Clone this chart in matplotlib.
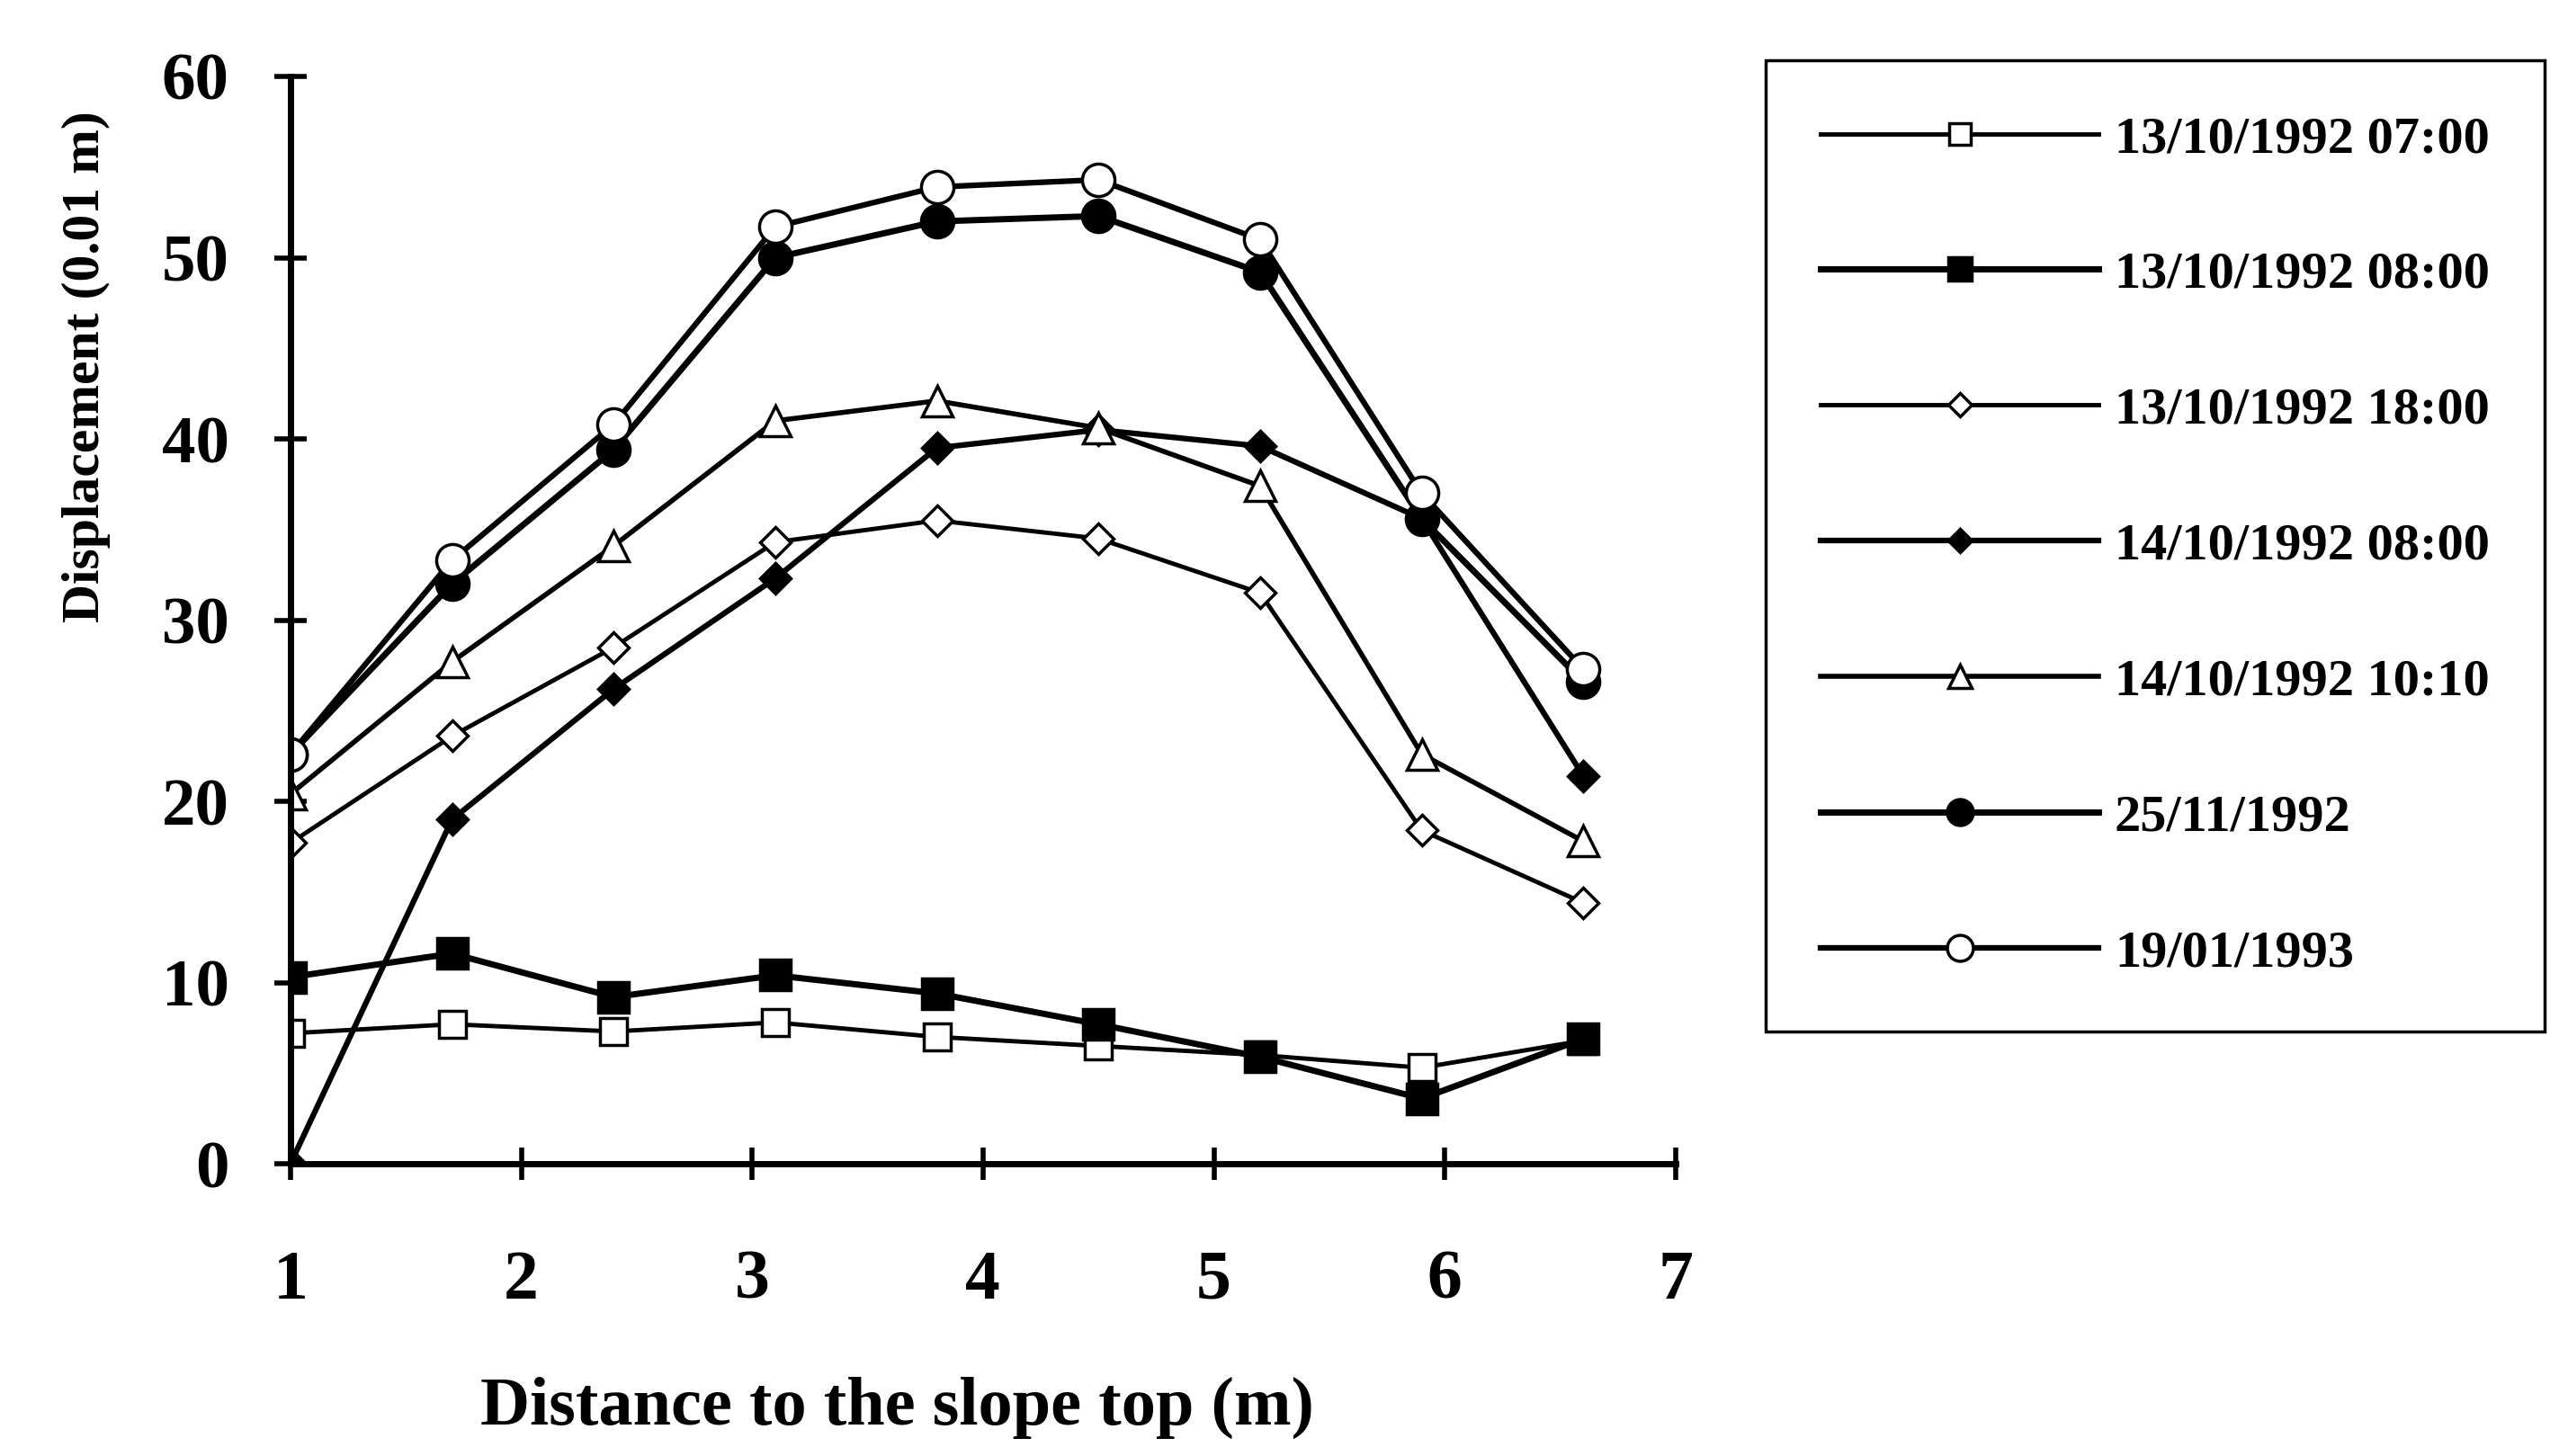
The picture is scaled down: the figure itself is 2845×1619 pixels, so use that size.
import matplotlib
matplotlib.use("Agg")
import matplotlib.pyplot as plt

plt.rcParams['font.family'] = ['Liberation Serif', 'DejaVu Serif']
plt.rcParams['font.weight'] = 'bold'

# distance to slope top (m)
dist = [1.0, 1.7, 2.4, 3.1, 3.8, 4.5, 5.2, 5.9, 6.6]

labels = ["13/10/1992 07:00", "13/10/1992 08:00", "13/10/1992 18:00",
          "14/10/1992 08:00", "14/10/1992 10:10", "25/11/1992", "19/01/1993"]

d_1307 = [7.2, 7.7, 7.3, 7.8, 7.0, 6.5, 6.0, 5.3, 6.8]
d_1308 = [10.3, 11.6, 9.2, 10.4, 9.4, 7.7, 5.9, 3.6, 6.9]
d_1318 = [17.7, 23.6, 28.5, 34.3, 35.5, 34.5, 31.5, 18.4, 14.4]
d_1408 = [0.0, 19.0, 26.2, 32.3, 39.5, 40.5, 39.6, 35.6, 21.4]
d_1410 = [20.4, 27.7, 34.1, 41.0, 42.1, 40.6, 37.4, 22.6, 17.8]
d_2511 = [22.6, 32.0, 39.4, 50.0, 52.0, 52.3, 49.2, 35.6, 26.6]
d_1901 = [22.6, 33.3, 40.8, 51.7, 53.9, 54.3, 51.0, 37.0, 27.3]

series = [d_1307, d_1308, d_1318, d_1408, d_1410, d_2511, d_1901]
markers = ['s', 's', 'D', 'D', '^', 'o', 'o']
faces = ['white', 'black', 'white', 'black', 'white', 'black', 'white']
msizes = [22, 24, 17, 17, 24, 26, 26]
lws = [3.5, 5, 3.5, 4.5, 4, 5, 4.5]

fig = plt.figure(figsize=(28.45, 16.19), dpi=100)
ax = fig.add_axes([0.1135, 0.2007, 0.5413, 0.7468])

for y, lab, m, fc, ms, lw in zip(series, labels, markers, faces, msizes, lws):
    ax.plot(dist, y, color='black', lw=lw, marker=m, ms=ms, mfc=fc,
            mec='black', mew=2.5, label=lab)

ax.set_xlim(1, 7)
ax.set_ylim(0, 60)
ax.set_xticks(range(1, 8))
ax.set_yticks(range(0, 61, 10))
for s in ['top', 'right']:
    ax.spines[s].set_visible(False)
for s in ['left', 'bottom']:
    ax.spines[s].set_linewidth(5)
ax.tick_params(axis='both', direction='inout', length=26, width=4)
ax.tick_params(axis='x', labelsize=56, pad=56)
ax.tick_params(axis='y', labelsize=54, pad=36)
for t in ax.get_xticklabels() + ax.get_yticklabels():
    t.set_fontweight('bold')

ax.set_xlabel("Distance to the slope top (m)", fontsize=55, fontweight='bold')
ax.set_ylabel("Displacement (0.01 m)", fontsize=43, fontweight='bold')
ax.xaxis.set_label_coords(0.438, -0.196)
ax.yaxis.set_label_coords(-0.13, 0.733)

leg = fig.legend(loc='upper left', bbox_to_anchor=(1963 / 2845, 1 - 67 / 1619),
                 fontsize=42, handlelength=5.3, handletextpad=0.3,
                 labelspacing=1.68, borderpad=1.05, borderaxespad=0,
                 markerscale=0.8, fancybox=False, framealpha=1,
                 edgecolor='black')
leg.get_frame().set_linewidth(2.5)
for t in leg.get_texts():
    t.set_fontweight('bold')

fig.savefig("out.png", dpi=100)
